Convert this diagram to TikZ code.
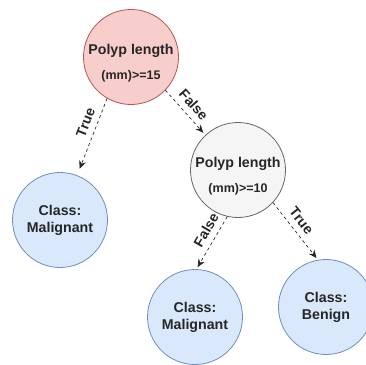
\documentclass[tikz,border=0pt]{standalone}
\usepackage{fontspec}
\setmainfont{Liberation Sans}
\usetikzlibrary{arrows.meta}

\definecolor{redfill}{HTML}{F8CECC}
\definecolor{redline}{HTML}{B85450}
\definecolor{grayfill}{HTML}{F5F5F5}
\definecolor{grayline}{HTML}{666666}
\definecolor{bluefill}{HTML}{DAE8FC}
\definecolor{blueline}{HTML}{6C8EBF}

\tikzset{
  treenode/.style={circle, minimum size=95pt, inner sep=0pt, line width=0.8pt,
    align=center, text=black!85, font=\fontsize{14.2}{17}\selectfont\bfseries},
  testnode/.style={treenode, draw=#1line, fill=#1fill},
  leafnode/.style={treenode, draw=blueline, fill=bluefill},
  testtext/.style={align=center, text=black!85, yshift=-6pt,
    font=\fontsize{14.2}{17}\selectfont\bfseries},
  branch/.style={draw=black!85, line width=0.7pt, dash pattern=on 3pt off 3pt,
    -{Stealth[length=8pt,width=7pt]}},
  branchlabel/.style={sloped, above=5pt, inner sep=1pt, text=black!85,
    font=\fontsize{14}{14}\selectfont\bfseries}
}
\newcommand{\thresh}[1]{{\fontsize{12.5}{14}\selectfont #1}}

\begin{document}
\begin{tikzpicture}[x=1pt, y=-1pt]
  \useasboundingbox (0,0) rectangle (366,364);
  \clip (0,0) rectangle (366,364);

  % decision nodes
  \node[testnode=red,
        label={[testtext]center:Polyp length\\[8pt]\thresh{(mm)>=15}}]
    (root) at (131,57) {};
  \node[testnode=gray,
        label={[testtext]center:Polyp length\\[8pt]\thresh{(mm)>=10}}]
    (split) at (238,170) {};

  % leaves
  \node[leafnode] (leafA) at (60,220)  {Class:\\Malignant};
  \node[leafnode] (leafB) at (195,317) {Class:\\Malignant};
  \node[leafnode] (leafC) at (326,307) {Class:\\Benign};

  % branches
  \draw[branch] (root.240) -- node[branchlabel, pos=0.4] {True}
    ([shift={(69:7pt)}]leafA.69);
  \draw[branch] (root.-44) -- node[branchlabel, pos=0.52] {False}
    ([shift={(133:3pt)}]split.133);
  \draw[branch] (split.-103) -- node[branchlabel, pos=0.38] {False}
    ([shift={(87:2pt)}]leafB.87);
  \draw[branch] (split.-43) -- node[branchlabel, pos=0.45] {True}
    ([shift={(101:2pt)}]leafC.101);
\end{tikzpicture}
\end{document}
